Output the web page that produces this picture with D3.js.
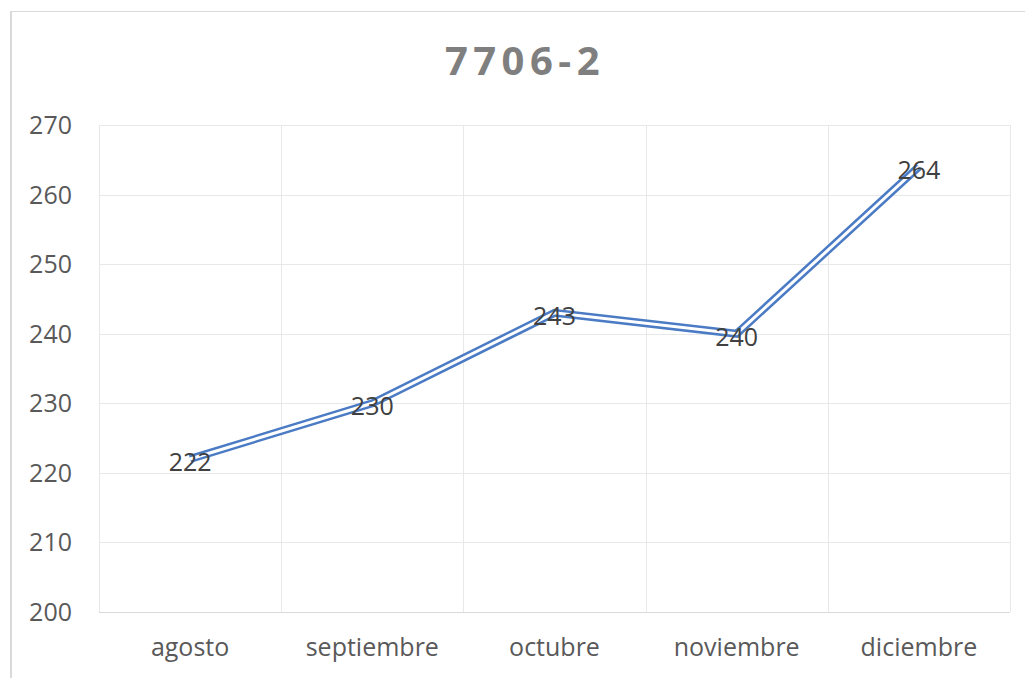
<!DOCTYPE html>
<html>
<head>
<meta charset="utf-8">
<script src="https://cdn.jsdelivr.net/npm/d3@7"></script>
<style>
  body { margin: 0; background: #fff; }
  text { font-family: "Open Sans", sans-serif; }
</style>
</head>
<body>
<div id="chart"></div>
<script>
// chart data
var title = "7706-2";
var months = ["agosto", "septiembre", "octubre", "noviembre", "diciembre"];
var values = [222, 230, 243, 240, 264];
var yTicks = [200, 210, 220, 230, 240, 250, 260, 270];

var outerWidth = 1025,
  outerHeight = 678,
  plot = { left: 99, right: 1010, top: 125, bottom: 612 };

var svg = d3.select("#chart").append("svg")
  .attr("width", outerWidth)
  .attr("height", outerHeight);

// chart area border (only top and left visible)
svg.append("line")
  .attr("x1", 10).attr("x2", outerWidth)
  .attr("y1", 11.5).attr("y2", 11.5)
  .attr("stroke", "#d9d9d9").attr("stroke-width", 1);
svg.append("line")
  .attr("x1", 11).attr("x2", 11)
  .attr("y1", 11).attr("y2", outerHeight)
  .attr("stroke", "#d9d9d9").attr("stroke-width", 2);

// scales
var xScale = d3.scaleBand()
  .domain(months)
  .range([plot.left, plot.right])
  .padding(0);

var yScale = d3.scaleLinear()
  .domain([200, 270])
  .range([plot.bottom, plot.top]);

var xMid = function(d) { return xScale(d) + xScale.bandwidth() / 2; };

// horizontal gridlines
svg.append("g")
  .selectAll("line")
  .data(yTicks.slice(1))
  .enter()
  .append("line")
  .attr("x1", plot.left).attr("x2", plot.right)
  .attr("y1", function(d) { return Math.round(yScale(d)) + 0.5; })
  .attr("y2", function(d) { return Math.round(yScale(d)) + 0.5; })
  .attr("stroke", "#e8e8e8");

// vertical gridlines at category boundaries
var bounds = months.map(function(d) { return xScale(d); }).concat([plot.right]);
svg.append("g")
  .selectAll("line")
  .data(bounds)
  .enter()
  .append("line")
  .attr("x1", function(d) { return Math.round(d) + 0.5; })
  .attr("x2", function(d) { return Math.round(d) + 0.5; })
  .attr("y1", plot.top).attr("y2", plot.bottom)
  .attr("stroke", "#e8e8e8");

// bottom axis line
svg.append("line")
  .attr("x1", plot.left).attr("x2", plot.right)
  .attr("y1", plot.bottom + 0.5).attr("y2", plot.bottom + 0.5)
  .attr("stroke", "#d9d9d9");

// y tick labels
svg.append("g")
  .selectAll("text")
  .data(yTicks)
  .enter()
  .append("text")
  .attr("x", 72)
  .attr("y", function(d) { return yScale(d) + 9; })
  .attr("text-anchor", "end")
  .attr("fill", "#595959")
  .style("font-size", "25px")
  .text(function(d) { return d; });

// x category labels
svg.append("g")
  .selectAll("text")
  .data(months)
  .enter()
  .append("text")
  .attr("x", xMid)
  .attr("y", 656)
  .attr("text-anchor", "middle")
  .attr("fill", "#595959")
  .style("font-size", "25px")
  .text(function(d) { return d; });

// title
svg.append("text")
  .attr("x", 525)
  .attr("y", 75)
  .attr("text-anchor", "middle")
  .attr("fill", "#7f7f7f")
  .style("font-size", "40px")
  .style("font-weight", "bold")
  .style("letter-spacing", "5.5px")
  .text(title);

// compound (double) line: wide blue stroke with a white core
var line = d3.line()
  .x(function(d, i) { return xMid(months[i]); })
  .y(function(d) { return yScale(d); });

svg.append("path")
  .datum(values)
  .attr("d", line)
  .attr("fill", "none")
  .attr("stroke", "#4a7bc4")
  .attr("stroke-width", 8);

svg.append("path")
  .datum(values)
  .attr("d", line)
  .attr("fill", "none")
  .attr("stroke", "#ffffff")
  .attr("stroke-width", 3);

// data labels centred on points
svg.append("g")
  .selectAll("text")
  .data(values)
  .enter()
  .append("text")
  .attr("x", function(d, i) { return xMid(months[i]); })
  .attr("y", function(d) { return yScale(d) + 12; })
  .attr("text-anchor", "middle")
  .attr("fill", "#404040")
  .style("font-size", "25px")
  .text(function(d) { return d; });
</script>
</body>
</html>
